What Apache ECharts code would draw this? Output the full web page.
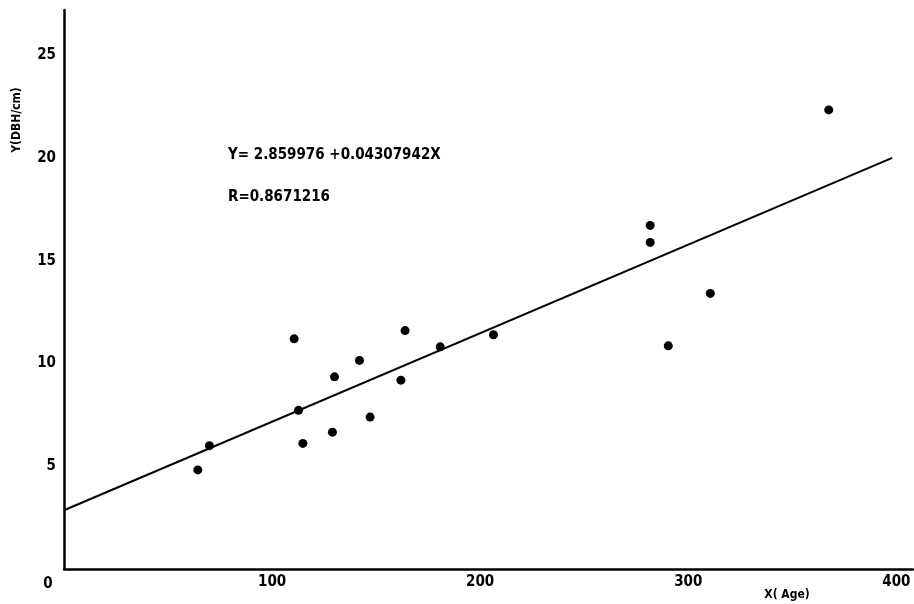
<!DOCTYPE html>
<html>
<head>
<meta charset="utf-8">
<title>DBH vs Age</title>
<script src="https://cdn.jsdelivr.net/npm/echarts@6/dist/echarts.min.js"></script>
<style>
  html, body { margin: 0; padding: 0; background: #fff; }
  #chart { width: 914px; height: 604px; }
</style>
</head>
<body>
<div id="chart"></div>
<script>
// Tree age (years) and diameter at breast height (cm)
const ages = [64.3, 69.9, 110.6, 112.7, 114.8, 129.0, 130.0, 142.0, 147.1, 161.9, 163.9, 180.8, 206.4, 281.7, 281.7, 290.4, 310.6, 367.5];
const dbh  = [4.82, 6.00, 11.20, 7.72, 6.11, 6.66, 9.35, 10.15, 7.39, 9.19, 11.60, 10.81, 11.40, 16.72, 15.89, 10.86, 13.41, 22.34];

// Fitted regression: Y = a + bX
const intercept = 2.859976;
const slope = 0.04307942;
const corrR = 0.8671216;
const fitRange = [0, 398];

const xTicks = [0, 100, 200, 300, 400];
const yTicks = [0, 5, 10, 15, 20, 25];

const points = ages.map((a, i) => [a, dbh[i]]);
const fitLine = fitRange.map(x => [x, intercept + slope * x]);

const labelFont = {
  fontFamily: 'DejaVu Sans Condensed, DejaVu Sans, sans-serif',
  fontWeight: 'bold',
  color: '#000'
};

const chart = echarts.init(document.getElementById('chart'));
chart.setOption({
  animation: false,
  backgroundColor: '#fff',
  grid: { left: 64, right: 1, top: 10, bottom: 35 },
  xAxis: {
    type: 'value',
    min: 0,
    max: 408,
    interval: 100,
    splitLine: { show: false },
    axisTick: { show: false },
    axisLine: { lineStyle: { color: '#000', width: 2.5 } },
    axisLabel: {
      margin: 6,
      showMaxLabel: false,
      fontSize: 15,
      ...labelFont,
      formatter: v => xTicks.includes(v) ? (v === 0 ? '{z|0}' : String(v)) : '',
      rich: {
        z: { fontSize: 15, ...labelFont, padding: [2, 32, 0, 0] }
      }
    }
  },
  yAxis: {
    type: 'value',
    min: 0,
    max: 27.2,
    interval: 5,
    splitLine: { show: false },
    axisTick: { show: false },
    axisLine: { lineStyle: { color: '#000', width: 2.5 } },
    axisLabel: {
      margin: 8,
      showMaxLabel: false,
      fontSize: 15,
      ...labelFont,
      formatter: v => (v !== 0 && yTicks.includes(v)) ? String(v) : ''
    }
  },
  series: [
    {
      type: 'line',
      data: fitLine,
      symbol: 'none',
      lineStyle: { color: '#000', width: 2 },
      z: 2
    },
    {
      type: 'scatter',
      data: points,
      symbol: 'circle',
      symbolSize: 9,
      itemStyle: { color: '#000', opacity: 1 },
      z: 3
    }
  ],
  graphic: [
    {
      type: 'text',
      x: 17, y: 120,
      rotation: Math.PI / 2,
      style: {
        text: 'Y(DBH/cm)',
        fontSize: 12,
        fontFamily: labelFont.fontFamily,
        fontWeight: 'bold',
        fill: '#000',
        textAlign: 'center',
        textVerticalAlign: 'middle'
      }
    },
    {
      type: 'text',
      x: 787, y: 595,
      style: {
        text: 'X( Age)',
        fontSize: 12,
        fontFamily: labelFont.fontFamily,
        fontWeight: 'bold',
        fill: '#000',
        textAlign: 'center',
        textVerticalAlign: 'middle'
      }
    },
    {
      type: 'text',
      x: 228, y: 155,
      style: {
        text: 'Y= ' + intercept + ' +' + slope + 'X',
        fontSize: 15,
        fontFamily: labelFont.fontFamily,
        fontWeight: 'bold',
        fill: '#000',
        textAlign: 'left',
        textVerticalAlign: 'middle'
      }
    },
    {
      type: 'text',
      x: 228, y: 197,
      style: {
        text: 'R=' + corrR,
        fontSize: 15,
        fontFamily: labelFont.fontFamily,
        fontWeight: 'bold',
        fill: '#000',
        textAlign: 'left',
        textVerticalAlign: 'middle'
      }
    }
  ]
});
</script>
</body>
</html>
